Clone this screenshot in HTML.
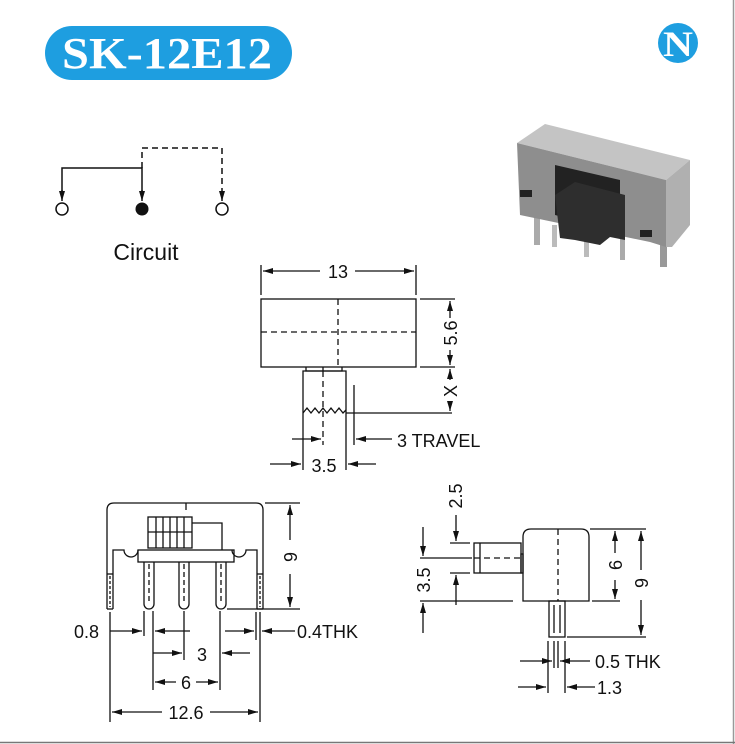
<!DOCTYPE html>
<html><head><meta charset="utf-8"><style>
html,body{margin:0;padding:0;background:#fff;}
svg{display:block;}
text{font-family:"Liberation Sans",sans-serif;fill:#111;}
</style></head><body>
<svg width="735" height="744" viewBox="0 0 735 744" xmlns="http://www.w3.org/2000/svg">
<defs>
<marker id="a" viewBox="0 0 10 6" refX="10" refY="3" markerWidth="10" markerHeight="6" markerUnits="userSpaceOnUse" orient="auto"><path d="M0,0 L10,3 L0,6 Z" fill="#111"/></marker>
</defs>
<rect x="0" y="0" width="735" height="744" fill="#fff"/>
<line x1="733.5" y1="0" x2="733.5" y2="744" stroke="#999" stroke-width="1.5"/>
<line x1="0" y1="742.5" x2="735" y2="742.5" stroke="#777" stroke-width="1.5"/>

<!-- title -->
<rect x="45" y="26" width="247" height="54" rx="27" fill="#1e9ee0"/>
<text x="62" y="68" font-weight="bold" font-size="44" textLength="210" lengthAdjust="spacingAndGlyphs" style="fill:#fff;font-family:'Liberation Serif',serif">SK-12E12</text>
<!-- logo -->
<circle cx="678" cy="43" r="20" fill="#1e9ee0"/>
<text x="678" y="56" text-anchor="middle" font-weight="bold" font-size="36" textLength="30" lengthAdjust="spacingAndGlyphs" style="fill:#fff;font-family:'Liberation Serif',serif">N</text>

<!-- circuit -->
<g stroke="#111" stroke-width="1.5" fill="none">
<polyline points="62,198 62,168 142,168 142,198" />
<line x1="62" y1="190" x2="62" y2="201" marker-end="url(#a)"/>
<line x1="142" y1="190" x2="142" y2="201" marker-end="url(#a)"/>
<polyline points="142,168 142,148 222,148 222,195" stroke-dasharray="6,4"/>
<line x1="222" y1="192" x2="222" y2="201" marker-end="url(#a)"/>
<circle cx="62" cy="209" r="6"/>
<circle cx="222" cy="209" r="6"/>
</g>
<circle cx="142" cy="209" r="6.5" fill="#111"/>
<text x="146" y="260" text-anchor="middle" font-size="23">Circuit</text>

<!-- photo -->
<g>
<rect x="534" y="205" width="6" height="40" fill="#aaa"/>
<rect x="660" y="215" width="7" height="52" fill="#999"/>
<rect x="552" y="225" width="5" height="22" fill="#bbb"/>
<rect x="584" y="235" width="5" height="22" fill="#bbb"/>
<rect x="620" y="225" width="5" height="35" fill="#aaa"/>
<polygon points="517,143 545,124 690,160 666,180" fill="#c4c4c4"/>
<polygon points="517,143 666,180 666,247 650,242 520,215" fill="#8e8e8e"/>
<polygon points="666,180 690,160 690,225 672,247 666,247" fill="#b0b0b0"/>
<polygon points="555,165 620,180 620,232 555,215" fill="#222"/>
<polygon points="555,195 575,182 625,195 625,240 610,237 600,245 575,240 560,238" fill="#2e2e2e"/>
<rect x="520" y="190" width="12" height="7" fill="#222"/>
<rect x="640" y="230" width="12" height="7" fill="#222"/>
</g>

<!-- top view dims -->
<g stroke="#111" stroke-width="1.3" fill="none">
<rect x="261" y="299" width="155" height="68"/>
<line x1="338" y1="299" x2="338" y2="367" stroke-dasharray="6,4"/>
<line x1="261" y1="332" x2="416" y2="332" stroke-dasharray="6,4"/>
<polyline points="306,367 306,371 342,371 342,367"/>
<line x1="323" y1="367" x2="323" y2="371"/>
<polyline points="346,413 346,371 303,371 303,413"/>
<polyline points="303,413 307,408 311,413 315,408 319,413 323,408 327,413 331,408 335,413 339,408 343,413 346,410"/>
<line x1="323" y1="371" x2="323" y2="445" stroke-dasharray="6,4"/>
<line x1="261" y1="265" x2="261" y2="295"/>
<line x1="416" y1="265" x2="416" y2="295"/>
<line x1="320" y1="271" x2="263" y2="271" marker-end="url(#a)"/>
<line x1="355" y1="271" x2="414" y2="271" marker-end="url(#a)"/>
<line x1="420" y1="299" x2="455" y2="299"/>
<line x1="420" y1="367" x2="455" y2="367"/>
<line x1="346" y1="413" x2="452" y2="413"/>
<line x1="450" y1="318" x2="450" y2="301" marker-end="url(#a)"/>
<line x1="450" y1="350" x2="450" y2="365" marker-end="url(#a)"/>
<line x1="450" y1="380" x2="450" y2="369" marker-end="url(#a)"/>
<line x1="450" y1="402" x2="450" y2="411" marker-end="url(#a)"/>
<line x1="354" y1="385" x2="354" y2="445"/>
<line x1="392" y1="439" x2="356" y2="439" marker-end="url(#a)"/>
<line x1="292" y1="439" x2="321" y2="439" marker-end="url(#a)"/>
<line x1="303" y1="413" x2="303" y2="470"/>
<line x1="346" y1="413" x2="346" y2="470"/>
<line x1="270" y1="464" x2="301" y2="464" marker-end="url(#a)"/>
<line x1="376" y1="464" x2="348" y2="464" marker-end="url(#a)"/>
</g>
<text x="338" y="278" text-anchor="middle" font-size="18">13</text>
<text transform="translate(457,333) rotate(-90)" text-anchor="middle" font-size="18">5.6</text>
<text transform="translate(457,391) rotate(-90)" text-anchor="middle" font-size="18">X</text>
<text x="397" y="447" font-size="18">3 TRAVEL</text>
<text x="324" y="472" text-anchor="middle" font-size="18">3.5</text>

<!-- front view -->
<g stroke="#111" stroke-width="1.3" fill="none">
<path d="M107,609 L107,510 Q107,503 114,503 L256,503 Q263,503 263,510 L263,609"/>
<path d="M113,574 L113,550 L124,550 A7,7 0 0 0 138,550 L138,550"/>
<path d="M257,574 L257,550 L246,550 A7,7 0 0 1 232,550"/>
<line x1="107" y1="574" x2="113" y2="574"/>
<line x1="257" y1="574" x2="263" y2="574"/>
<line x1="113" y1="574" x2="113" y2="609"/><line x1="257" y1="574" x2="257" y2="609"/>
<line x1="107" y1="609" x2="113" y2="609"/><line x1="257" y1="609" x2="263" y2="609"/>
<line x1="110" y1="576" x2="110" y2="607" stroke-dasharray="3,2"/>
<line x1="260" y1="576" x2="260" y2="607" stroke-dasharray="3,2"/>
<rect x="138" y="550" width="96" height="12"/>
<line x1="186" y1="503" x2="186" y2="510"/>
<rect x="148" y="517" width="44" height="31"/>
<line x1="156" y1="517" x2="156" y2="548"/><line x1="163" y1="517" x2="163" y2="548"/><line x1="170" y1="517" x2="170" y2="548"/><line x1="177" y1="517" x2="177" y2="548"/><line x1="184" y1="517" x2="184" y2="548"/>
<line x1="148" y1="532" x2="192" y2="532"/>
<polyline points="192,523 222,523 222,550"/>
<path d="M144,562 L144,604 A5,5 0 0 0 154,604 L154,562"/>
<path d="M179,562 L179,604 A5,5 0 0 0 189,604 L189,562"/>
<path d="M216,562 L216,604 A5,5 0 0 0 226,604 L226,562"/>
<line x1="149" y1="564" x2="149" y2="604" stroke-dasharray="5,3"/>
<line x1="184" y1="564" x2="184" y2="604" stroke-dasharray="5,3"/>
<line x1="221" y1="564" x2="221" y2="604" stroke-dasharray="5,3"/>
<line x1="265" y1="503" x2="300" y2="503"/>
<line x1="227" y1="609" x2="300" y2="609"/>
<line x1="290" y1="540" x2="290" y2="505" marker-end="url(#a)"/>
<line x1="290" y1="574" x2="290" y2="607" marker-end="url(#a)"/>
<line x1="110" y1="612" x2="110" y2="722"/>
<line x1="260" y1="612" x2="260" y2="722"/>
<line x1="256" y1="612" x2="256" y2="640"/>
<line x1="144" y1="611" x2="144" y2="636"/>
<line x1="153" y1="611" x2="153" y2="690"/>
<line x1="184" y1="611" x2="184" y2="660"/>
<line x1="220" y1="611" x2="220" y2="690"/>
<line x1="110" y1="631" x2="142" y2="631" marker-end="url(#a)"/>
<line x1="190" y1="631" x2="155" y2="631" marker-end="url(#a)"/>
<line x1="225" y1="631" x2="254" y2="631" marker-end="url(#a)"/>
<line x1="295" y1="631" x2="262" y2="631" marker-end="url(#a)"/>
<line x1="153" y1="653" x2="182" y2="653" marker-end="url(#a)"/>
<line x1="250" y1="653" x2="222" y2="653" marker-end="url(#a)"/>
<line x1="176" y1="682" x2="155" y2="682" marker-end="url(#a)"/>
<line x1="196" y1="682" x2="218" y2="682" marker-end="url(#a)"/>
<line x1="162" y1="712" x2="112" y2="712" marker-end="url(#a)"/>
<line x1="210" y1="712" x2="258" y2="712" marker-end="url(#a)"/>
</g>
<text transform="translate(297,557) rotate(-90)" text-anchor="middle" font-size="18">9</text>
<text x="74" y="638" font-size="18">0.8</text>
<text x="297" y="638" font-size="18">0.4THK</text>
<text x="202" y="661" text-anchor="middle" font-size="18">3</text>
<text x="186" y="689" text-anchor="middle" font-size="18">6</text>
<text x="186" y="719" text-anchor="middle" font-size="18">12.6</text>

<!-- side view -->
<g stroke="#111" stroke-width="1.3" fill="none">
<path d="M523,601 L523,537 Q523,529 531,529 L581,529 Q589,529 589,537 L589,601 Z"/>
<line x1="558" y1="529" x2="558" y2="601" stroke-dasharray="6,4"/>
<rect x="549" y="601" width="16" height="36"/>
<line x1="554" y1="605" x2="554" y2="633"/><line x1="560" y1="605" x2="560" y2="633"/>
<rect x="474" y="543" width="47" height="30"/>
<rect x="521" y="554" width="2" height="19"/>
<line x1="480" y1="543" x2="480" y2="573"/>
<line x1="474" y1="558" x2="521" y2="558" stroke-dasharray="6,4"/>
<line x1="590" y1="529" x2="646" y2="529"/>
<line x1="592" y1="601" x2="620" y2="601"/>
<line x1="567" y1="637" x2="646" y2="637"/>
<line x1="615" y1="553" x2="615" y2="531" marker-end="url(#a)"/>
<line x1="615" y1="580" x2="615" y2="599" marker-end="url(#a)"/>
<line x1="641" y1="570" x2="641" y2="531" marker-end="url(#a)"/>
<line x1="641" y1="600" x2="641" y2="635" marker-end="url(#a)"/>
<line x1="450" y1="543" x2="470" y2="543"/>
<line x1="450" y1="573" x2="470" y2="573"/>
<line x1="456" y1="515" x2="456" y2="541" marker-end="url(#a)"/>
<line x1="456" y1="605" x2="456" y2="575" marker-end="url(#a)"/>
<line x1="420" y1="558" x2="472" y2="558"/>
<line x1="420" y1="601" x2="513" y2="601"/>
<line x1="423" y1="527" x2="423" y2="556" marker-end="url(#a)"/>
<line x1="423" y1="633" x2="423" y2="603" marker-end="url(#a)"/>
<line x1="548" y1="641" x2="548" y2="693"/>
<line x1="554" y1="641" x2="554" y2="668"/>
<line x1="558" y1="641" x2="558" y2="668"/>
<line x1="565" y1="641" x2="565" y2="693"/>
<line x1="520" y1="661" x2="552" y2="661" marker-end="url(#a)"/>
<line x1="590" y1="661" x2="560" y2="661" marker-end="url(#a)"/>
<line x1="518" y1="687" x2="546" y2="687" marker-end="url(#a)"/>
<line x1="595" y1="687" x2="567" y2="687" marker-end="url(#a)"/>
</g>
<text transform="translate(462,496) rotate(-90)" text-anchor="middle" font-size="18">2.5</text>
<text transform="translate(430,580) rotate(-90)" text-anchor="middle" font-size="18">3.5</text>
<text transform="translate(622,565) rotate(-90)" text-anchor="middle" font-size="18">6</text>
<text transform="translate(648,583) rotate(-90)" text-anchor="middle" font-size="18">9</text>
<text x="595" y="668" font-size="18">0.5 THK</text>
<text x="597" y="694" font-size="18">1.3</text>
</svg>
</body></html>
